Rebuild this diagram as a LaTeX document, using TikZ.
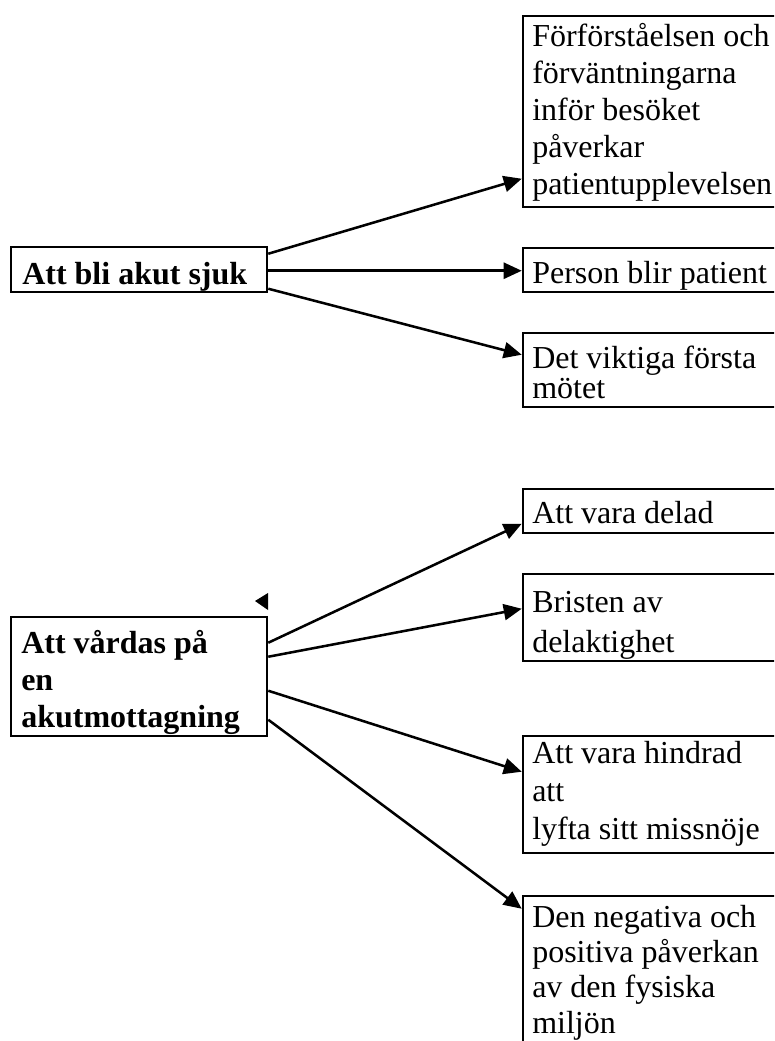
\documentclass[tikz,border=0pt]{standalone}
\usepackage{fontspec}
\setmainfont{Liberation Serif}
\usetikzlibrary{arrows.meta,fit,calc}
\tikzset{
  box/.style={draw=black, line width=1.9pt, inner sep=0pt, rectangle},
  txt/.style={anchor=base west, inner sep=0pt, font=\fontsize{24pt}{27.75pt}\selectfont},
  conn/.style={draw=black, line width=1.9pt, -{Triangle[length=13.5pt,width=12pt]}},
}
\newcommand{\mylines}[2]{\vtop{\baselineskip=#1\relax\lineskiplimit=-100pt\relax #2}}
\begin{document}
\begin{tikzpicture}[x=0.75pt,y=-0.75pt]
\useasboundingbox (0,0) rectangle (774,1041);
\clip (0,0) rectangle (774,1041);
% boxes
\node[box, fit={(523,16) (800,207)}] (A) {};
\node[box, fit={(523,248) (800,292)}] (P) {};
\node[box, fit={(523,333) (800,407)}] (D) {};
\node[box, fit={(11,247) (267,292)}] (L1) {};
\node[box, fit={(11,617) (267,736)}] (L2) {};
\node[box, fit={(523,489) (800,533)}] (V) {};
\node[box, fit={(523,574) (800,661)}] (B) {};
\node[box, fit={(523,736) (800,853)}] (H) {};
\node[box, fit={(523,896) (800,1060)}] (N) {};
% texts
\node[txt] (tA) at (532,47) {\mylines{27.75pt}{\hbox{Förförståelsen och}\hbox{förväntningarna}\hbox{inför besöket}\hbox{påverkar}\hbox{patientupplevelsen}}};
\node[txt] (tP) at (532,283) {Person blir patient};
\node[txt] (tD) at (532,368) {\mylines{22.5pt}{\hbox{Det viktiga första}\hbox{mötet}}};
\node[txt, font=\fontsize{24pt}{27.75pt}\selectfont\bfseries] (tL1) at (22,284) {Att bli akut sjuk};
\node[txt, font=\fontsize{24pt}{27.75pt}\selectfont\bfseries] (tL2) at (21,653) {\mylines{27.75pt}{\hbox{Att vårdas på}\hbox{en}\hbox{akutmottagning}}};
\node[txt] (tV) at (532,523) {Att vara delad};
\node[txt] (tB) at (532,612) {\mylines{30pt}{\hbox{Bristen av}\hbox{delaktighet}}};
\node[txt] (tH) at (532,763) {\mylines{28.5pt}{\hbox{Att vara hindrad}\hbox{att}\hbox{lyfta sitt missnöje}}};
\node[txt] (tN) at (532,927) {\mylines{26.6pt}{\hbox{Den negativa och}\hbox{positiva påverkan}\hbox{av den fysiska}\hbox{miljön}}};
% connectors from "Att bli akut sjuk"
\draw[conn] ($(L1.north east)+(0,8)$) -- ($(A.north west)+(0,164)$);
\draw[conn] ($(L1.north east)+(0,25)$) -- ($(P.north west)+(0,24)$);
\draw[conn] ($(L1.north east)+(0,43)$) -- ($(D.north west)+(0,23)$);
% connectors from "Att vårdas på en akutmottagning"
\draw[conn] ($(L2.north east)+(0,27)$) -- ($(V.north west)+(0,36)$);
\draw[conn] ($(L2.north east)+(0,41)$) -- ($(B.north west)+(0,36)$);
\draw[conn] ($(L2.north east)+(0,75)$) -- ($(H.north west)+(0,37)$);
\draw[conn] ($(L2.north east)+(0,104)$) -- ($(N.north west)+(0,14)$);
% stray arrowhead
\fill[black] (255,601) -- (268,593) -- (268,610) -- cycle;
\end{tikzpicture}
\end{document}
